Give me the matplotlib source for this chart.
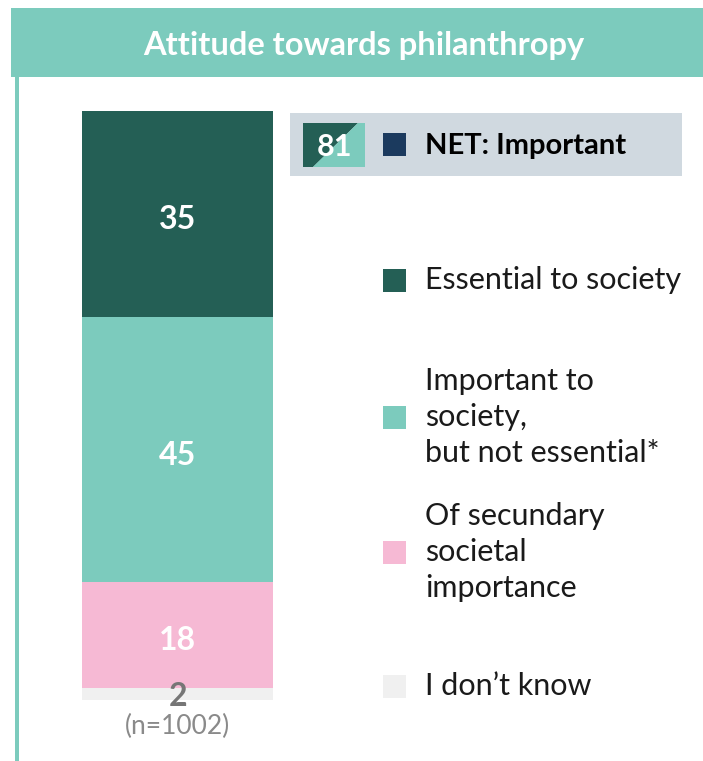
import matplotlib
matplotlib.use("Agg")
import matplotlib.pyplot as plt
from matplotlib.patches import Rectangle, Polygon

plt.rcParams['font.family'] = ['Lato', 'DejaVu Sans']

# ---- data ----
title = "Attitude towards philanthropy"
categories = ["Essential to society",
              "Important to\nsociety,\nbut not essential*",
              "Of secundary\nsocietal\nimportance",
              "I don\u2019t know"]
values = [35, 45, 18, 2]
colors = ["#245f55", "#7ccbbd", "#f6b9d4", "#f0f0f0"]
label_colors = ["white", "white", "white", "#767676"]
net_label = "NET: Important"
net_value = 81
sample_note = "(n=1002)"

W, H = 703, 761
fig = plt.figure(figsize=(W / 100, H / 100), dpi=100)

# background / decoration axes in pixel coordinates
bg = fig.add_axes([0, 0, 1, 1])
bg.set_xlim(0, W)
bg.set_ylim(H, 0)
bg.axis("off")

# header band
bg.add_patch(Rectangle((11, 8), W - 11, 69, color="#7ccbbd", lw=0))
bg.text(364, 46, title, ha="center", va="center", color="white",
        fontsize=23.5, fontweight="bold")
# left vertical line
bg.add_patch(Rectangle((15, 77), 4, H - 77, color="#7ccbbd", lw=0))

# NET box
bg.add_patch(Rectangle((290, 113), 392, 63, color="#d0d9e0", lw=0))
bg.add_patch(Polygon([(303, 123), (358, 123), (313, 167), (303, 167)],
                     closed=True, color="#245f55", lw=0))
bg.add_patch(Polygon([(358, 123), (365, 123), (365, 167), (313, 167)],
                     closed=True, color="#7ccbbd", lw=0))
bg.text(334, 147, str(net_value), ha="center", va="center", color="white",
        fontsize=22, fontweight="bold")
bg.add_patch(Rectangle((383, 133), 23, 23, color="#1b3a5e", lw=0))
bg.text(425, 146, net_label, ha="left", va="center", color="black",
        fontsize=21, fontweight="bold")

# legend entries
leg_y = [280, 417, 552, 686]
for cat, col, y in zip(categories, colors, leg_y):
    bg.add_patch(Rectangle((383, y - 11), 23, 23, color=col, lw=0))
    bg.text(425, y, cat, ha="left", va="center", color="#1a1a1a",
            fontsize=22, linespacing=1.36)

# stacked bar axes
bx0, bx1, by0, by1 = 82, 273, 111, 700
ax = fig.add_axes([bx0 / W, 1 - by1 / H, (bx1 - bx0) / W, (by1 - by0) / H])
ax.set_xlim(-0.5, 0.5)
ax.set_ylim(sum(values), 0)
ax.axis("off")
bottom = 0
for v, col, lc in zip(values, colors, label_colors):
    ax.bar(0, v, width=1, bottom=bottom, color=col, linewidth=0)
    if v >= 5:
        ax.text(0, bottom + v / 2 + 0.5, str(v), ha="center",
                va="center_baseline", color=lc, fontsize=23,
                fontweight="bold")
    bottom += v

# small category label below bar (drawn on top of everything)
fig.text(178, 697, str(values[-1]), ha="center", va="center",
         color="#767676", fontsize=23, fontweight="bold",
         transform=bg.transData)
fig.text(178, 726, sample_note, ha="center", va="center",
         color="#8a8a8a", fontsize=19, transform=bg.transData)

fig.savefig("out.png", dpi=100)
